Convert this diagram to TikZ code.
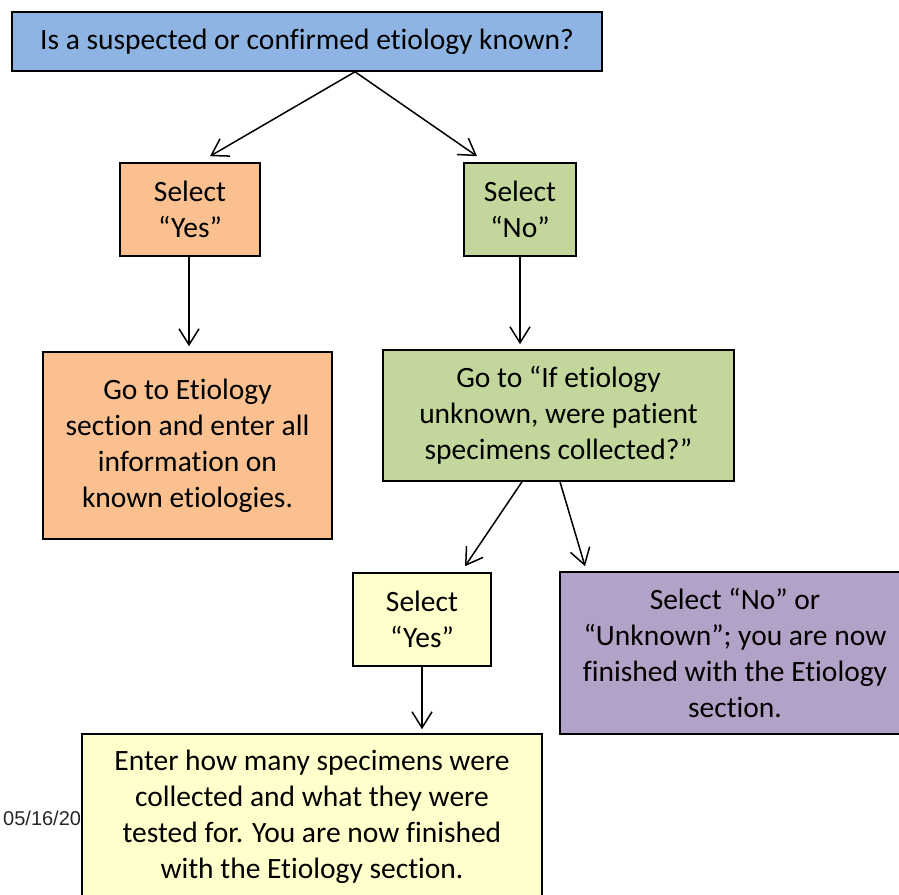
\documentclass[tikz,border=0pt]{standalone}
\usepackage{fontspec}
\setmainfont[Ligatures=NoCommon]{Carlito}
\newfontfamily\datefont{Liberation Sans}
\usepackage{tikz}
\usetikzlibrary{arrows.meta}
\definecolor{qblue}{HTML}{8DB4E2}
\definecolor{yesorange}{HTML}{FAC090}
\definecolor{nogreen}{HTML}{C3D69B}
\definecolor{paleyellow}{HTML}{FFFFCC}
\definecolor{donepurple}{HTML}{B3A2C7}
\tikzset{
  box/.style={draw=black,line width=1.6pt,rectangle,inner sep=0pt,align=center,
    font=\fontsize{29.5}{36}\selectfont},
  arr/.style={line width=1.5pt,-{Straight Barb[length=16pt,width=20pt,line width=1.5pt]}}
}
\begin{document}
\begin{tikzpicture}[x=1pt,y=-1pt]
\clip (0,0) rectangle (899,894);
\node[box,fill=qblue,minimum width=590pt,minimum height=59pt] (q) at (307,41.5) {Is a suspected or confirmed etiology known?};
\node[box,fill=yesorange,minimum width=140pt,minimum height=93pt] (yes1) at (190,209.5) {Select\\“Yes”};
\node[box,fill=nogreen,minimum width=112pt,minimum height=93pt] (no1) at (520,209.5) {Select\\“No”};
\node[box,fill=yesorange,minimum width=289pt,minimum height=187pt] (etio) at (187.5,445.5) {Go to Etiology\\section and enter all\\information on\\known etiologies.};
\node[box,fill=nogreen,minimum width=351pt,minimum height=131pt] (unk) at (558.5,415.5) {Go to “If etiology\\unknown, were patient\\specimens collected?”};
\node[box,fill=paleyellow,minimum width=138pt,minimum height=93pt] (yes2) at (422,619.5) {Select\\“Yes”};
\node[box,fill=donepurple,minimum width=350pt,minimum height=162pt] (fin) at (735,653) {Select “No” or\\“Unknown”; you are now\\finished with the Etiology\\section.};
\node[text=black!85,font=\datefont\fontsize{20}{24}\selectfont,anchor=west,inner sep=0pt] (date) at (3,818) {05/16/20};
\node[box,fill=paleyellow,minimum width=460pt,minimum height=166pt] (last) at (312,817) {Enter how many specimens were\\collected and what they were\\tested for. You are now finished\\with the Etiology section.};
% connectors
\draw[arr] ([xshift=48pt]q.south) -- ([xshift=20pt,yshift=6pt]yes1.north);
\draw[arr] ([xshift=48pt]q.south) -- ([xshift=-43pt,yshift=6pt]no1.north);
\draw[arr] ([xshift=-1pt]yes1.south) -- ([xshift=1.5pt,yshift=5pt]etio.north);
\draw[arr] (no1.south) -- ([xshift=-38.5pt,yshift=5pt]unk.north);
\draw[arr] ([xshift=-36.5pt]unk.south) -- ([xshift=43pt,yshift=6pt]yes2.north);
\draw[arr] ([xshift=1.5pt]unk.south) -- ([xshift=-150pt,yshift=5pt]fin.north);
\draw[arr] (yes2.south) -- ([xshift=110pt,yshift=4pt]last.north);
\end{tikzpicture}
\end{document}
